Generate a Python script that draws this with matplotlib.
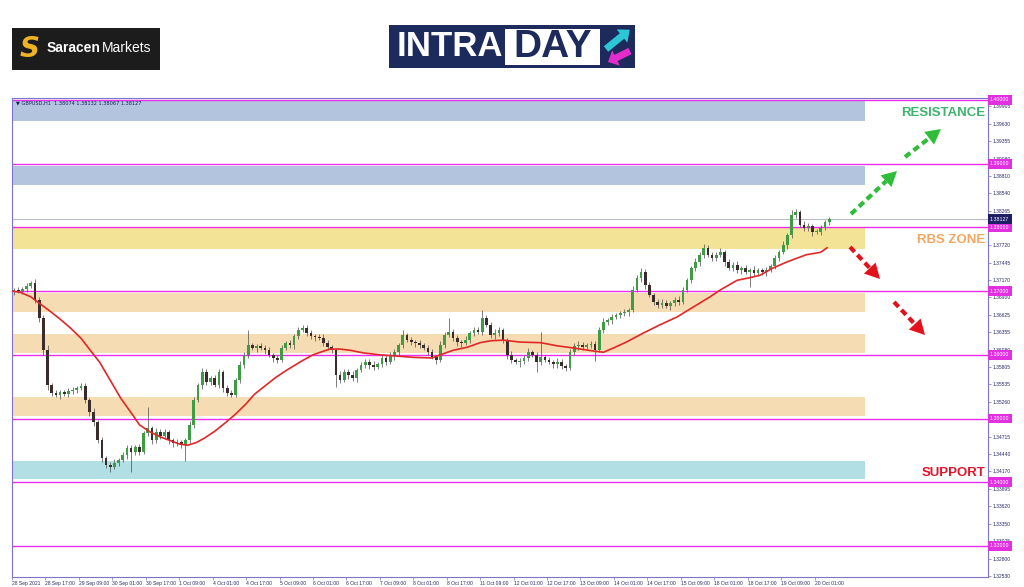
import matplotlib
matplotlib.use('Agg')
import matplotlib.pyplot as plt
from matplotlib.lines import Line2D
from matplotlib.patches import Rectangle, Polygon, FancyArrow
from matplotlib.transforms import Affine2D, blended_transform_factory
import numpy as np

# GBPUSD H1, sampled as 2-hour candles (bar i sits at hour 2*i + 1)
closes = [
    1.3702, 1.3700, 1.3703, 1.3708, 1.3713, 1.3686, 1.3658, 1.3607, 1.3552, 1.3540, 1.3537, 1.3541, 1.3538, 1.3543,
    1.3545, 1.3548, 1.3551, 1.3529, 1.3510, 1.3494, 1.3466, 1.3438, 1.3427, 1.3424, 1.3430, 1.3435, 1.3443, 1.3454,
    1.3447, 1.3455, 1.3447, 1.3477, 1.3485, 1.3466, 1.3479, 1.3472, 1.3479, 1.3466, 1.3461, 1.3463, 1.3458, 1.3466,
    1.3490, 1.3529, 1.3552, 1.3573, 1.3557, 1.3563, 1.3552, 1.3573, 1.3548, 1.3540, 1.3537, 1.3560, 1.3584, 1.3600,
    1.3615, 1.3611, 1.3614, 1.3611, 1.3607, 1.3600, 1.3595, 1.3592, 1.3611, 1.3618, 1.3615, 1.3629, 1.3639, 1.3642,
    1.3634, 1.3629, 1.3628, 1.3626, 1.3618, 1.3612, 1.3607, 1.3568, 1.3560, 1.3573, 1.3568, 1.3563, 1.3576, 1.3584,
    1.3589, 1.3584, 1.3581, 1.3585, 1.3595, 1.3589, 1.3598, 1.3604, 1.3615, 1.3631, 1.3623, 1.3620, 1.3618, 1.3615,
    1.3611, 1.3604, 1.3596, 1.3592, 1.3615, 1.3631, 1.3636, 1.3626, 1.3620, 1.3618, 1.3623, 1.3634, 1.3639, 1.3636,
    1.3658, 1.3647, 1.3631, 1.3634, 1.3639, 1.3623, 1.3600, 1.3592, 1.3589, 1.3590, 1.3595, 1.3604, 1.3600, 1.3589,
    1.3596, 1.3592, 1.3589, 1.3585, 1.3589, 1.3582, 1.3579, 1.3604, 1.3614, 1.3615, 1.3612, 1.3615, 1.3617, 1.3607,
    1.3639, 1.3651, 1.3654, 1.3659, 1.3662, 1.3665, 1.3667, 1.3670, 1.3702, 1.3720, 1.3730, 1.3709, 1.3694, 1.3683,
    1.3678, 1.3681, 1.3676, 1.3681, 1.3686, 1.3683, 1.3702, 1.3717, 1.3736, 1.3746, 1.3757, 1.3768, 1.3757, 1.3752,
    1.3757, 1.3761, 1.3746, 1.3736, 1.3741, 1.3733, 1.3736, 1.3730, 1.3733, 1.3728, 1.3733, 1.3730, 1.3733, 1.3739,
    1.3752, 1.3761, 1.3772, 1.3788, 1.3819, 1.3824, 1.3804, 1.3799, 1.3802, 1.3793, 1.3793, 1.3799, 1.3808, 1.38127,
]
first_open = 1.3698

# wick lengths in pips above / below the candle body
upper_wick = [
    3, 4, 3, 5, 3, 6, 4, 5, 8, 4, 5, 3, 4, 5,
    4, 3, 4, 5, 3, 6, 4, 5, 3, 4, 6, 3, 5, 4,
    4, 3, 5, 4, 33, 3, 6, 4, 5, 3, 4, 5, 3, 4,
    6, 5, 4, 7, 5, 4, 6, 5, 3, 4, 5, 4, 6, 5,
    24, 4, 3, 5, 4, 6, 3, 4, 5, 4, 6, 3, 4, 5,
    4, 5, 3, 4, 6, 5, 4, 3, 7, 5, 4, 6, 3, 4,
    5, 4, 6, 3, 5, 4, 6, 5, 4, 8, 3, 5, 4, 6,
    3, 4, 5, 4, 6, 5, 22, 4, 5, 3, 6, 4, 5, 4,
    13, 5, 4, 6, 5, 3, 4, 6, 3, 5, 4, 7, 3, 4,
    39, 4, 5, 3, 6, 4, 3, 5, 4, 6, 5, 3, 4, 5,
    4, 6, 3, 5, 4, 3, 5, 4, 6, 5, 7, 4, 5, 3,
    4, 6, 5, 3, 4, 6, 5, 4, 3, 6, 5, 6, 4, 5,
    4, 6, 3, 5, 4, 6, 3, 5, 4, 6, 3, 4, 5, 4,
    5, 4, 6, 3, 8, 5, 4, 6, 5, 3, 4, 5, 4, 3,
]
lower_wick = [
    4, 3, 5, 4, 3, 5, 6, 8, 7, 5, 4, 6, 3, 5,
    4, 5, 3, 4, 6, 5, 4, 6, 5, 8, 4, 5, 3, 6,
    31, 4, 5, 3, 4, 6, 5, 4, 3, 6, 5, 4, 5, 24,
    4, 5, 3, 6, 4, 5, 3, 4, 6, 5, 4, 3, 5, 4,
    5, 4, 6, 3, 5, 4, 6, 5, 3, 4, 5, 6, 4, 3,
    5, 4, 6, 3, 4, 5, 4, 19, 5, 3, 6, 4, 5, 3,
    4, 6, 5, 3, 4, 5, 3, 6, 4, 5, 3, 4, 6, 5,
    4, 5, 3, 6, 4, 5, 3, 4, 6, 5, 3, 4, 5, 4,
    5, 3, 4, 6, 5, 4, 6, 5, 3, 8, 4, 5, 4, 16,
    5, 3, 4, 6, 5, 4, 5, 3, 4, 6, 5, 3, 4, 16,
    3, 5, 4, 6, 3, 5, 4, 6, 3, 4, 5, 6, 4, 5,
    4, 5, 3, 6, 4, 5, 4, 3, 5, 4, 6, 5, 3, 4,
    5, 4, 6, 3, 5, 4, 6, 3, 24, 4, 5, 4, 6, 3,
    4, 5, 3, 6, 4, 5, 3, 5, 4, 6, 4, 5, 3, 4,
]

# red moving average (hour, price)
ma_hours = [0, 4, 9, 13, 18, 23, 28, 33, 37, 42, 47, 52, 57, 61, 66, 71, 76, 80, 84, 88,
            92, 97, 102, 107, 112, 116, 121, 126, 131, 138, 144, 152, 157, 162, 168, 176,
            184, 192, 201, 205, 211, 218, 224, 229, 235, 243, 253, 261, 268, 278, 283, 288,
            294, 302, 310, 318, 326, 334, 339, 347, 353, 358, 364, 371, 380, 387, 390]
ma_values = [1.3700, 1.3698, 1.3691, 1.3681, 1.3669, 1.3656, 1.3642, 1.3626, 1.3609, 1.3588,
             1.3560, 1.3532, 1.3509, 1.3490, 1.3479, 1.3471, 1.3465, 1.3460, 1.3458, 1.3462,
             1.3469, 1.3480, 1.3493, 1.3507, 1.3523, 1.3538, 1.3551, 1.3564, 1.3575, 1.3589,
             1.3600, 1.3609, 1.3609, 1.3607, 1.3603, 1.3600, 1.3598, 1.3596, 1.3595, 1.3600,
             1.3607, 1.3612, 1.3619, 1.3622, 1.3623, 1.3620, 1.3619, 1.3614, 1.3611, 1.3606,
             1.3604, 1.3611, 1.3620, 1.3634, 1.3647, 1.3659, 1.3675, 1.3691, 1.3702, 1.3717,
             1.3721, 1.3725, 1.3736, 1.3746, 1.3757, 1.3761, 1.3768]

# shaded supply / demand zones
zone_lo = [1.3967, 1.3867, 1.3766, 1.3667, 1.3603, 1.3504, 1.3405]
zone_hi = [1.3998, 1.3896, 1.3799, 1.3697, 1.3633, 1.3534, 1.3433]
zone_colors = ['#b3c5de', '#b3c5de', '#f3e396', '#f5dcb2', '#f5dcb2', '#f5dcb2', '#b2dfe4']

levels = [1.40, 1.39, 1.38, 1.37, 1.36, 1.35, 1.34, 1.33]
last_price = 1.38127

y_ticks = [1.32530, 1.32800, 1.33075, 1.33350, 1.33620, 1.33895, 1.34170, 1.34440, 1.34715,
           1.35260, 1.35535, 1.35805, 1.36080, 1.36355, 1.36625, 1.36900, 1.37170, 1.37445,
           1.37720, 1.38265, 1.38540, 1.38810, 1.39080, 1.39355, 1.39630, 1.39905]
x_labels = ['28 Sep 2021', '28 Sep 17:00', '29 Sep 09:00', '30 Sep 01:00', '30 Sep 17:00',
            '1 Oct 09:00', '4 Oct 01:00', '4 Oct 17:00', '5 Oct 09:00', '6 Oct 01:00',
            '6 Oct 17:00', '7 Oct 09:00', '8 Oct 01:00', '8 Oct 17:00', '11 Oct 09:00',
            '12 Oct 01:00', '12 Oct 17:00', '13 Oct 09:00', '14 Oct 01:00', '14 Oct 17:00',
            '15 Oct 09:00', '18 Oct 01:00', '18 Oct 17:00', '19 Oct 09:00', '20 Oct 01:00']

X_MAX = 467
ZONE_END = 408
NAVY = '#2a2a6a'
FRAME = '#7d74c8'

fig = plt.figure(figsize=(10.24, 5.87), dpi=100)
fig.patch.set_facecolor('white')
ax = fig.add_axes([12 / 1024, 1 - 577 / 587, 976 / 1024, 479 / 587])
ax.set_xlim(0, X_MAX)
ax.set_ylim(1.32512, 1.40031)

# pixel coordinates (y down) on the figure, for logos and arrows
pix = Affine2D().scale(1 / 1024, -1 / 587).translate(0, 1) + fig.transFigure

# zones and levels
for lo, hi, c in zip(zone_lo, zone_hi, zone_colors):
    ax.axhspan(lo, hi, xmin=0, xmax=ZONE_END / X_MAX, color=c, lw=0, zorder=0.5)
for lv in levels:
    ax.axhline(lv, color='#ea2eea', lw=1.0, zorder=1)
ax.axhline(last_price, color='#b9bdca', lw=0.8, zorder=1)

# candles
c = np.array(closes)
o = np.array([first_open] + closes[:-1])
hi_ = np.maximum(o, c) + np.array(upper_wick) * 1e-4
lo_ = np.minimum(o, c) - np.array(lower_wick) * 1e-4
xs = np.arange(len(c)) * 2 + 1
up = c >= o
ax.vlines(xs, lo_, hi_, color='#4a4a4a', lw=0.5, zorder=2)
body_h = np.maximum(np.abs(c - o), 0.00008)
ax.bar(xs, body_h, bottom=np.minimum(o, c), width=1.3,
       color=np.where(up, '#3f9c45', '#3a2c2c'), lw=0, zorder=2.2)

ax.plot(ma_hours, ma_values, color='#e02828', lw=1.2, zorder=3)

# axes styling
for s in ax.spines.values():
    s.set_color(FRAME)
    s.set_linewidth(0.8)
ax.yaxis.tick_right()
ax.set_yticks(y_ticks)
ax.set_yticklabels([f'{v:.5f}' for v in y_ticks])
ax.set_xticks([16 * k for k in range(len(x_labels))])
ax.set_xticklabels(x_labels, ha='left')
ax.tick_params(axis='both', labelsize=3.6, labelcolor=NAVY, color=FRAME, length=2, width=0.5, pad=1)
for lab in ax.get_xticklabels() + ax.get_yticklabels():
    lab.set_family('Liberation Sans')

ax.text(0.004, 0.996, '\u25bc GBPUSD,H1  1.38074 1.38132 1.38067 1.38127', transform=ax.transAxes,
        fontsize=3.6, color='#1a1a60', va='top', ha='left', zorder=4)

# price tags on the right axis
tag_tr = blended_transform_factory(ax.transAxes, ax.transData)
for lv in levels:
    ax.text(1.002, lv, f'{lv:.5f}', transform=tag_tr, fontsize=3.8, color='white', va='center',
            ha='left', clip_on=False, zorder=5, family='Liberation Sans',
            bbox=dict(boxstyle='square,pad=0.45', fc='#e030e0', ec='none'))
ax.text(1.002, last_price, f'{last_price:.5f}', transform=tag_tr, fontsize=3.8, color='white',
        va='center', ha='left', clip_on=False, zorder=5, family='Liberation Sans',
        bbox=dict(boxstyle='square,pad=0.45', fc='#1f1f66', ec='none'))

# annotations
fig.text(985 / 1024, 1 - 113 / 587, 'RESISTANCE', color='#3db46d', fontsize=9.5, fontweight='bold',
         family='Liberation Sans', ha='right', va='center')
fig.text(985 / 1024, 1 - 240 / 587, 'RBS ZONE', color='#f4a762', fontsize=9.5, fontweight='bold',
         family='Liberation Sans', ha='right', va='center')
fig.text(985 / 1024, 1 - 473 / 587, 'SUPPORT', color='#e3132b', fontsize=9.5, fontweight='bold',
         family='Liberation Sans', ha='right', va='center')


def dashed_arrow(x0, y0, x1, y1, color):
    v = np.array([x1 - x0, y1 - y0], float)
    u = v / np.hypot(*v)
    n = np.array([-u[1], u[0]])
    head = 15
    base = np.array([x1, y1]) - u * head
    fig.add_artist(Line2D([x0, base[0]], [y0, base[1]], transform=pix, color=color, lw=3.0,
                          dashes=(1.6, 1.0), solid_capstyle='butt', dash_capstyle='butt'))
    tri = [(x1, y1), tuple(base + n * 8), tuple(base - n * 8)]
    fig.add_artist(Polygon(tri, closed=True, transform=pix, color=color, lw=0))


dashed_arrow(851, 214, 897, 171, '#2fbd3a')
dashed_arrow(905, 157, 941, 129, '#2fbd3a')
dashed_arrow(850, 247, 880, 279, '#e3111c')
dashed_arrow(894, 302, 925, 335, '#e3111c')

# Saracen Markets logo
fig.add_artist(Rectangle((12, 28), 148, 42, transform=pix, color='#1c1c1c', lw=0))
fig.text(30 / 1024, 1 - 49 / 587, 'S', color='#f0b323', fontsize=20, fontweight='heavy',
         style='italic', ha='center', va='center')
fig.text(47 / 1024, 1 - 48 / 587, 'Saracen', color='white', fontsize=10, fontweight='bold',
         family='Liberation Sans', ha='left', va='center')
fig.text(151 / 1024, 1 - 48 / 587, 'Markets', color='white', fontsize=10,
         family='Liberation Sans', ha='right', va='center')

# INTRADAY logo
fig.add_artist(Rectangle((389, 25), 246, 43, transform=pix, color='#1c2b5c', lw=0))
fig.add_artist(Rectangle((505, 29), 95, 36, transform=pix, color='white', lw=0))
fig.text(397 / 1024, 1 - 47 / 587, 'INTRA', color='white', fontsize=25, fontweight='bold',
         family='Liberation Sans', ha='left', va='center')
fig.text(553 / 1024, 1 - 47 / 587, 'DAY', color='#1c2b5c', fontsize=28, fontweight='bold',
         family='Liberation Sans', ha='center', va='center')
fig.add_artist(FancyArrow(606, 49, 16, -13, width=7, head_width=17, head_length=10,
                          transform=pix, color='#2cc7d6', lw=0))
fig.add_artist(FancyArrow(630, 51, -14, 7, width=7, head_width=17, head_length=9,
                          transform=pix, color='#e62bcc', lw=0))

fig.savefig('out.png', dpi=100)
